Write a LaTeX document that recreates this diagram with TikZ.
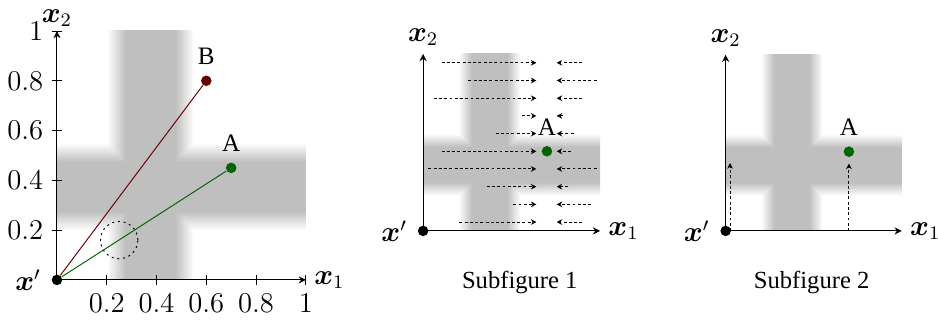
\documentclass[tikz,border=0pt]{standalone}
\usepackage{amsmath,amssymb}
\usepackage{bm}
\usepackage[no-math]{fontspec}
\newfontfamily\capfont{Liberation Serif}
\usepackage{tikz}
\usetikzlibrary{arrows.meta,positioning}
\usepackage{xcolor}
\definecolor{ptgreen}{HTML}{006400}
\definecolor{ptred}{HTML}{660000}
\definecolor{bandgray}{HTML}{BFBFBF}

% soft-edged bands of the cross
\pgfdeclarehorizontalshading{vband}{100bp}{color(0bp)=(white); color(25bp)=(white);
  color(35.7bp)=(bandgray); color(64.3bp)=(bandgray); color(75bp)=(white); color(100bp)=(white)}
\pgfdeclareverticalshading{hband}{100bp}{color(0bp)=(white); color(25bp)=(white);
  color(35.7bp)=(bandgray); color(64.3bp)=(bandgray); color(75bp)=(white); color(100bp)=(white)}
\newcommand{\crossbands}{%
  \begin{scope}[blend mode=darken]
    \shade[shading=vband] (0.2,0) rectangle (0.55,1);
    \shade[shading=hband] (0,0.2) rectangle (1,0.55);
  \end{scope}}

\begin{document}
\begin{tikzpicture}[
  axisline/.style={-{Stealth[length=3pt,width=3pt]},thin},
  pnt/.style={circle,fill=#1,inner sep=0pt,minimum size=4.4pt},
  pnt/.default=black,
  flow/.style={dash pattern=on 1.2pt off 1pt,-{Stealth[length=2.3pt,width=2.4pt]},thin},
  mlabel/.style={font=\fontsize{11.5}{14}\selectfont},
  ticklbl/.style={font=\fontsize{11.5}{14}\selectfont},
  ptlabel/.style={font=\capfont\fontsize{10.5}{12}\selectfont},
  caption/.style={font=\capfont\fontsize{10.3}{12}\selectfont},
]
\useasboundingbox (0,0) rectangle (13.8,4.706);

% Left panel
\begin{scope}[shift={(0.838,0.588)},x=3.662cm,y=3.662cm]
\crossbands
\coordinate (o1) at (0,0);
\coordinate (x1end) at (1,0);
\coordinate (x2end) at (0,1);
\draw[axisline] (o1) -- (x1end);
\draw[axisline] (o1) -- (x2end);
\foreach \t in {0.2,0.4,0.6,0.8,1}{
  \draw (\t,0) ++(0,-2.2pt) -- ++(0,4.4pt);
  \draw (0,\t) ++(-2.2pt,0) -- ++(4.4pt,0);
  \node[ticklbl,below=2.2pt] at (\t,0) {$\t$};
  \node[ticklbl,left=2.2pt] at (0,\t) {$\t$};
}
\draw[dash pattern=on 0.8pt off 1.6pt] (0.25,0.16) circle[radius=0.075];
\node[pnt] (p1) at (o1) {};
\node[pnt=ptred] (B1) at (0.6,0.8) {};
\node[pnt=ptgreen] (A1) at (0.7,0.45) {};
\draw[ptred] (p1) -- (B1);
\draw[ptgreen] (p1) -- (A1);
\node[ptlabel,above=0.8pt of B1] (lB1) {B};
\node[ptlabel,above=0.8pt of A1] (lA1) {A};
\node[mlabel,above=-1.6pt of x2end] (lx21) {$\bm{x}_2$};
\node[mlabel,right=0pt of x1end] (lx11) {$\bm{x}_1$};
\node[mlabel,left=0.8pt of p1] (lo1) {$\bm{x}'$};
\end{scope}

% Subfigure 1
\begin{scope}[shift={(6.225,1.309)},x=2.603cm,y=2.603cm]
\crossbands
\foreach \y/\l/\r in {0.05/0.205/0.90, 0.15/0.51/0.95, 0.25/0.36/0.82,
    0.35/0.03/0.98, 0.45/0.105/0.835, 0.55/0.41/0.85, 0.65/0.56/0.79,
    0.75/0.06/0.90, 0.85/0.256/0.98, 0.95/0.105/0.90}{
  \draw[flow] (\l,\y) -- (0.64,\y);
  \draw[flow] (\r,\y) -- (0.755,\y);
}
\coordinate (o2) at (0,0);
\coordinate (x1end2) at (1,0);
\coordinate (x2end2) at (0,1);
\draw[axisline] (o2) -- (x1end2);
\draw[axisline] (o2) -- (x2end2);
\node[pnt] (p2) at (o2) {};
\node[pnt=ptgreen] (A2) at (0.7,0.45) {};
\node[ptlabel,above=0.8pt of A2] (lA2) {A};
\node[mlabel,above=0pt of x2end2] (lx22) {$\bm{x}_2$};
\node[mlabel,right=0pt of x1end2] (lx12) {$\bm{x}_1$};
\node[mlabel,left=0.8pt of p2] (lo2) {$\bm{x}'$};
\end{scope}

% Subfigure 2
\begin{scope}[shift={(10.676,1.309)},x=2.59cm,y=2.59cm]
\crossbands
\coordinate (o3) at (0,0);
\coordinate (x1end3) at (1,0);
\coordinate (x2end3) at (0,1);
\coordinate (s3) at (0.025,0);
\coordinate (t3) at (0.025,0.385);
\node[pnt=ptgreen] (A3) at (0.7,0.45) {};
\draw[flow] (s3) -- (t3);
\draw[flow,shorten >=2.6pt] (A3 |- o3) -- (A3);
\draw[axisline] (o3) -- (x1end3);
\draw[axisline] (o3) -- (x2end3);
\node[pnt] (p3) at (o3) {};
\node[ptlabel,above=0.8pt of A3] (lA3) {A};
\node[mlabel,above=0pt of x2end3] (lx23) {$\bm{x}_2$};
\node[mlabel,right=0pt of x1end3] (lx13) {$\bm{x}_1$};
\node[mlabel,left=0.8pt of p3] (lo3) {$\bm{x}'$};
\end{scope}

\node[caption] (cap1) at (7.647,0.544) {Subfigure 1};
\node[caption] (cap2) at (11.941,0.544) {Subfigure 2};

\end{tikzpicture}
\end{document}
